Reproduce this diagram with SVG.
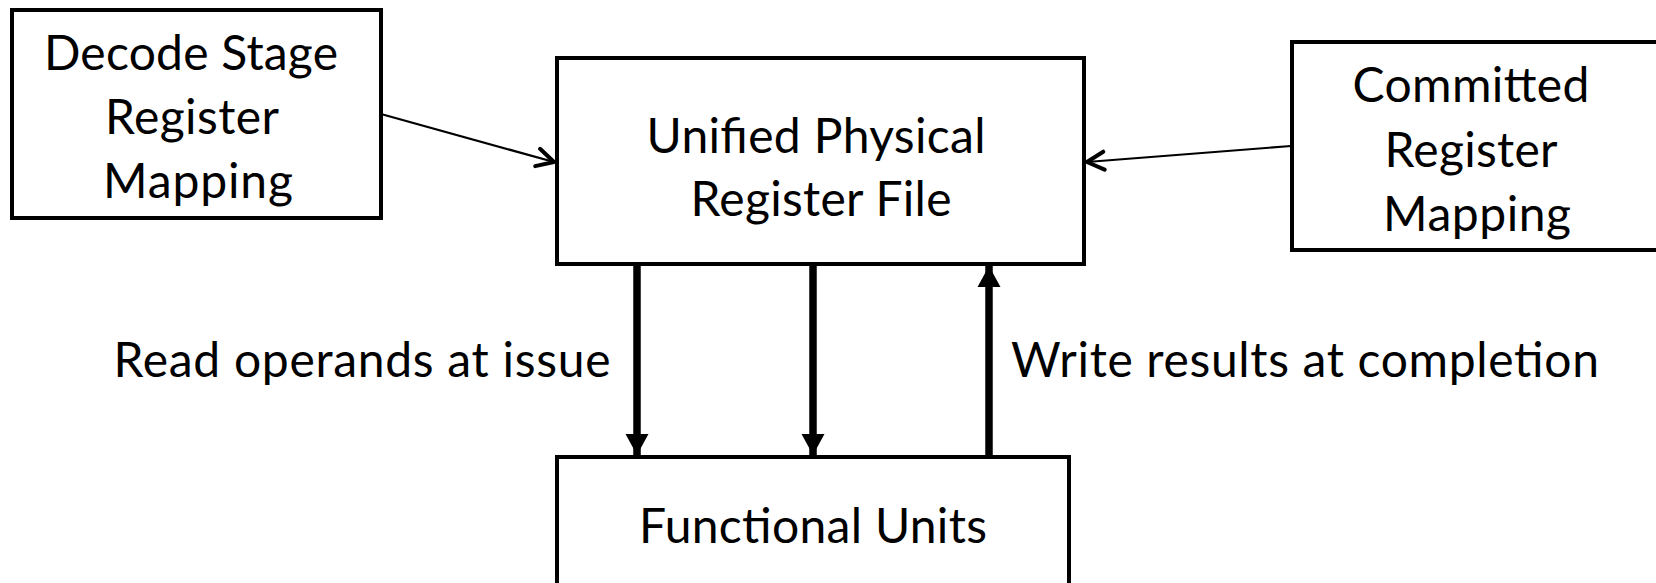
<svg xmlns="http://www.w3.org/2000/svg" width="1656" height="583" viewBox="0 0 1656 583">
<defs>
<style>
.box{fill:#fff;stroke:#000;stroke-width:4}
.t{font-family:Lato,"Open Sans","Liberation Sans",sans-serif;font-size:48px;fill:#000;text-anchor:middle}
.thin{stroke:#000;stroke-width:2.2;fill:none}
.thick{stroke:#000;stroke-width:7.5;fill:none}
</style>
<marker id="open" markerWidth="26" markerHeight="24" refX="20" refY="11" orient="auto" markerUnits="userSpaceOnUse" viewBox="0 0 26 22">
<path d="M3,2 L20,11 L3,20" fill="none" stroke="#000" stroke-width="4" stroke-linecap="round" stroke-linejoin="round"/>
</marker>
<marker id="solid" markerWidth="24" markerHeight="24" refX="21" refY="12" orient="auto" markerUnits="userSpaceOnUse" viewBox="0 0 24 24">
<path d="M0,0.5 L21,12 L0,23.5 Z" fill="#000"/>
</marker>
</defs>
<rect width="1656" height="583" fill="#fff"/>
<g id="decode">
<rect class="box" x="12" y="10" width="369" height="208"/>
<text class="t" x="191" y="70" textLength="294">Decode Stage</text>
<text class="t" x="192" y="134" textLength="174">Register</text>
<text class="t" x="198" y="198" textLength="190">Mapping</text>
</g>
<g id="unified">
<rect class="box" x="557" y="58" width="527" height="206"/>
<text class="t" x="816" y="153" textLength="339">Unified Physical</text>
<text class="t" x="821" y="216" textLength="261">Register File</text>
</g>
<g id="committed">
<rect class="box" x="1292" y="42" width="370" height="208"/>
<text class="t" x="1471" y="102" textLength="237">Committed</text>
<text class="t" x="1471" y="167" textLength="173">Register</text>
<text class="t" x="1477" y="231" textLength="188">Mapping</text>
</g>
<g id="functional">
<rect class="box" x="557" y="457" width="512" height="140"/>
<text class="t" x="813" y="543" textLength="348">Functional Units</text>
</g>
<g id="connectors">
<line class="thin" x1="381" y1="114" x2="554" y2="162" marker-end="url(#open)"/>
<line class="thin" x1="1291" y1="146" x2="1087" y2="162" marker-end="url(#open)"/>
<line class="thick" x1="637" y1="266" x2="637" y2="455" marker-end="url(#solid)"/>
<line class="thick" x1="813" y1="266" x2="813" y2="455" marker-end="url(#solid)"/>
<line class="thick" x1="989" y1="455" x2="989" y2="266" marker-end="url(#solid)"/>
</g>
<g id="labels">
<text class="t" x="362" y="377" textLength="497">Read operands at issue</text>
<text class="t" x="1305" y="377" textLength="588">Write results at completion</text>
</g>
</svg>
